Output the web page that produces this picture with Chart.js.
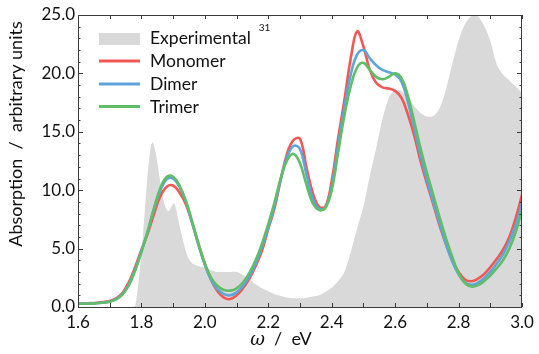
<!DOCTYPE html>
<html>
<head>
<meta charset="utf-8">
<script src="https://cdn.jsdelivr.net/npm/chart.js@4"></script>
<style>
  html, body { margin: 0; padding: 0; background: #fff; }
  #wrap { width: 539px; height: 354px; }
</style>
</head>
<body>
<div id="wrap"><canvas id="absChart"></canvas></div>
<script>
// Energie-Raster der berechneten Spektren (eV)
let energy = [1.60, 1.62, 1.64, 1.66, 1.68, 1.70, 1.72, 1.74, 1.76, 1.78,
  1.80, 1.82, 1.84, 1.86, 1.88, 1.90, 1.92, 1.94, 1.96, 1.98,
  2.00, 2.02, 2.04, 2.06, 2.08, 2.10, 2.12, 2.14, 2.16, 2.18,
  2.20, 2.22, 2.24, 2.26, 2.28, 2.30, 2.32, 2.34, 2.36, 2.38,
  2.40, 2.42, 2.44, 2.46, 2.48, 2.50, 2.52, 2.54, 2.56, 2.58,
  2.60, 2.62, 2.64, 2.66, 2.68, 2.70, 2.72, 2.74, 2.76, 2.78,
  2.80, 2.82, 2.84, 2.86, 2.88, 2.90, 2.92, 2.94, 2.96, 2.98,
  3.00];

let monomer = [0.30, 0.31, 0.33, 0.36, 0.42, 0.52, 0.75, 1.2, 2.1, 3.4,
  4.9, 6.3, 8.0, 9.5, 10.3, 10.4, 9.8, 8.8, 7.2, 5.4,
  3.7, 2.3, 1.35, 0.8, 0.68, 1.0, 1.6, 2.4, 3.5, 4.8,
  6.7, 8.5, 11.0, 13.2, 14.3, 14.4, 12.0, 9.8, 8.6, 8.6,
  10.8, 14.4, 17.7, 21.3, 23.6, 22.3, 20.3, 19.2, 18.8, 18.7,
  18.5, 17.9, 16.5, 14.7, 12.5, 10.6, 8.8, 7.0, 5.4, 4.0,
  3.0, 2.35, 2.2, 2.4, 2.8, 3.4, 4.1, 4.9, 6.0, 7.6,
  9.6];

let dimer = [0.28, 0.29, 0.30, 0.33, 0.38, 0.47, 0.68, 1.1, 1.9, 3.2,
  4.8, 6.5, 8.4, 10.0, 10.95, 11.0, 10.3, 9.0, 7.2, 5.3,
  3.6, 2.3, 1.5, 1.1, 1.0, 1.25, 1.8, 2.6, 3.7, 5.1,
  6.8, 8.7, 11.0, 12.9, 13.8, 13.5, 11.4, 9.3, 8.4, 8.5,
  10.3, 13.8, 17.1, 19.9, 21.6, 22.0, 21.3, 20.7, 20.3, 20.1,
  19.9, 19.3, 17.6, 15.3, 13.0, 10.9, 9.0, 7.2, 5.4, 3.9,
  2.8, 2.1, 1.9, 2.05, 2.45, 3.0, 3.7, 4.5, 5.6, 7.0,
  8.9];

let trimer = [0.27, 0.28, 0.29, 0.32, 0.37, 0.45, 0.65, 1.05, 1.85, 3.1,
  4.7, 6.5, 8.5, 10.2, 11.15, 11.15, 10.4, 9.1, 7.3, 5.4,
  3.7, 2.5, 1.8, 1.45, 1.4, 1.6, 2.1, 2.9, 4.0, 5.4,
  7.1, 9.0, 11.1, 12.6, 13.1, 12.3, 10.5, 8.9, 8.3, 8.5,
  10.0, 13.2, 16.4, 18.9, 20.5, 20.9, 20.3, 19.7, 19.5, 19.7,
  20.0, 19.6, 18.1, 15.9, 13.6, 11.5, 9.6, 7.7, 5.9, 4.3,
  2.9, 2.05, 1.75, 1.85, 2.2, 2.7, 3.3, 4.0, 5.0, 6.4,
  8.3];

// Experimentelles Spektrum (eigenes Raster)
let expEnergy = [1.60, 1.77, 1.78, 1.79, 1.80, 1.81, 1.82, 1.83, 1.836, 1.845,
  1.855, 1.865, 1.875, 1.885, 1.895, 1.903, 1.91, 1.92, 1.93, 1.94,
  1.95, 1.96, 1.98, 2.00, 2.02, 2.04, 2.06, 2.08, 2.10, 2.12,
  2.14, 2.16, 2.18, 2.20, 2.22, 2.24, 2.26, 2.28, 2.30, 2.32,
  2.34, 2.36, 2.38, 2.40, 2.42, 2.44, 2.46, 2.48, 2.50, 2.52,
  2.54, 2.56, 2.58, 2.60, 2.62, 2.64, 2.66, 2.68, 2.70, 2.72,
  2.74, 2.76, 2.78, 2.80, 2.82, 2.84, 2.86, 2.88, 2.90, 2.92,
  2.94, 2.96, 2.98, 3.00];
let expAbs = [0, 0, 0.1, 2.0, 4.5, 8.0, 11.5, 13.8, 14.1, 13.2,
  11.5, 9.8, 8.6, 8.2, 8.6, 8.9, 8.3, 7.0, 5.8, 4.8,
  4.1, 3.75, 3.5, 3.35, 3.15, 3.0, 3.0, 3.0, 3.0, 2.75,
  2.35, 1.95, 1.6, 1.35, 1.1, 0.95, 0.82, 0.75, 0.74, 0.8,
  0.9, 1.0, 1.3, 1.65, 2.2, 3.0, 4.7, 6.7, 8.6, 11.2,
  13.6, 16.1, 17.9, 18.6, 18.5, 17.9, 17.2, 16.6, 16.3, 16.35,
  17.0, 18.6, 20.8, 22.8, 24.2, 24.9, 24.9, 24.1, 22.8, 20.8,
  19.9, 19.4, 18.9, 18.3];

let xTicks = [1.6, 1.8, 2.0, 2.2, 2.4, 2.6, 2.8, 3.0];
let yTicks = [0, 5, 10, 15, 20, 25];

let seriesNames = ['Experimental', 'Monomer', 'Dimer', 'Trimer'];
let colors = ['#d9d9d9', '#F15854', '#5DA5DA', '#60BD68'];
let font = 'Lato, "Open Sans", sans-serif';

function toPoints(xs, ys) {
  return xs.map((x, i) => ({ x: x, y: ys[i] }));
}

// order: kleinere Zahl wird zuletzt (oben) gezeichnet
function lineSet(label, data, color, order) {
  return { label: label, data: toPoints(energy, data), borderColor: color, borderWidth: 2.6,
    pointRadius: 0, tension: 0.4, fill: false, order: order };
}

// Rahmen, nach innen zeigende Ticks, Legende und Achsentitel
let decor = {
  id: 'decor',
  afterDatasetsDraw(chart) {
    let { ctx, chartArea: a, scales: { x, y } } = chart;
    ctx.save();
    ctx.strokeStyle = '#3a3a3a';
    ctx.lineWidth = 1;
    ctx.beginPath();
    // x-Ticks alle 0.1 eV
    for (let k = 0; k <= 14; k++) {
      let px = Math.round(x.getPixelForValue(1.6 + k * 0.1)) + 0.5;
      ctx.moveTo(px, a.bottom); ctx.lineTo(px, a.bottom - 4);
      ctx.moveTo(px, a.top); ctx.lineTo(px, a.top + 4);
    }
    // y-Ticks: gross alle 5, klein alle 1
    for (let v = 0; v <= 25; v++) {
      let py = Math.round(y.getPixelForValue(v)) + 0.5;
      let len = v % 5 === 0 ? 5 : 2.5;
      ctx.moveTo(a.left, py); ctx.lineTo(a.left + len, py);
      ctx.moveTo(a.right, py); ctx.lineTo(a.right - len, py);
    }
    ctx.stroke();
    ctx.strokeRect(Math.round(a.left) + 0.5, Math.round(a.top) + 0.5,
      Math.round(a.right - a.left) - 1, Math.round(a.bottom - a.top));
    ctx.restore();
  },
  afterDraw(chart) {
    let { ctx } = chart;
    ctx.save();
    // Legende oben links
    let lx = 99, lw = 41, rows = [38.5, 61, 84, 106.5], base = [44, 67, 90, 112.5];
    ctx.fillStyle = colors[0];
    ctx.fillRect(lx, 33, lw, 12);
    for (let i = 1; i < 4; i++) {
      ctx.strokeStyle = colors[i];
      ctx.lineWidth = 3;
      ctx.beginPath();
      ctx.moveTo(lx, rows[i]); ctx.lineTo(lx + lw, rows[i]);
      ctx.stroke();
    }
    ctx.fillStyle = '#111';
    ctx.font = '17.5px ' + font;
    ctx.textAlign = 'left';
    ctx.textBaseline = 'alphabetic';
    seriesNames.forEach((n, i) => ctx.fillText(n, 150, base[i]));
    let ew = ctx.measureText(seriesNames[0]).width;
    ctx.font = '10px ' + font;
    ctx.fillText('31', 150 + ew + 8, 31);

    // x-Achsentitel
    ctx.font = 'italic 18px "DejaVu Serif", serif';
    let wOm = ctx.measureText('ω').width;
    ctx.font = '18px ' + font;
    let rest = '  /  eV';
    let wRest = ctx.measureText(rest).width;
    let start = 281 - (wOm + wRest) / 2;
    ctx.font = 'italic 18px "DejaVu Serif", serif';
    ctx.fillText('ω', start, 345);
    ctx.font = '18px ' + font;
    ctx.fillText(rest, start + wOm, 345);

    // y-Achsentitel
    ctx.translate(22, 134);
    ctx.rotate(-Math.PI / 2);
    ctx.textAlign = 'center';
    ctx.fillText('Absorption  /  arbitrary units', 0, 0);
    ctx.restore();
  }
};

let config = {
  type: 'line',
  data: {
    datasets: [
      { label: seriesNames[0], data: toPoints(expEnergy, expAbs), borderWidth: 0, borderColor: colors[0],
        backgroundColor: colors[0], pointRadius: 0, tension: 0.3, fill: 'origin', order: 4 },
      lineSet(seriesNames[1], monomer, colors[1], 3),
      lineSet(seriesNames[2], dimer, colors[2], 2),
      lineSet(seriesNames[3], trimer, colors[3], 1)
    ]
  },
  options: {
    responsive: true,
    maintainAspectRatio: false,
    animation: false,
    layout: { padding: { top: 15, right: 17, left: 0, bottom: 0 } },
    plugins: { legend: { display: false }, tooltip: { enabled: false } },
    scales: {
      x: {
        type: 'linear', min: 1.6, max: 3.0,
        afterBuildTicks: s => { s.ticks = xTicks.map(v => ({ value: v })); },
        afterFit: s => { s.height = 47; },
        grid: { display: false, drawTicks: false },
        border: { display: false },
        ticks: { padding: 5, color: '#111', font: { family: font, size: 17 }, callback: v => v.toFixed(1) }
      },
      y: {
        min: 0, max: 25,
        afterBuildTicks: s => { s.ticks = yTicks.map(v => ({ value: v })); },
        afterFit: s => { s.width = 78; },
        grid: { display: false, drawTicks: false },
        border: { display: false },
        ticks: { padding: 3, color: '#111', font: { family: font, size: 17 }, callback: v => v.toFixed(1) }
      }
    }
  },
  plugins: [decor]
};

let ctx = document.getElementById('absChart').getContext('2d');
let absChart = new Chart(ctx, config);
</script>
</body>
</html>
